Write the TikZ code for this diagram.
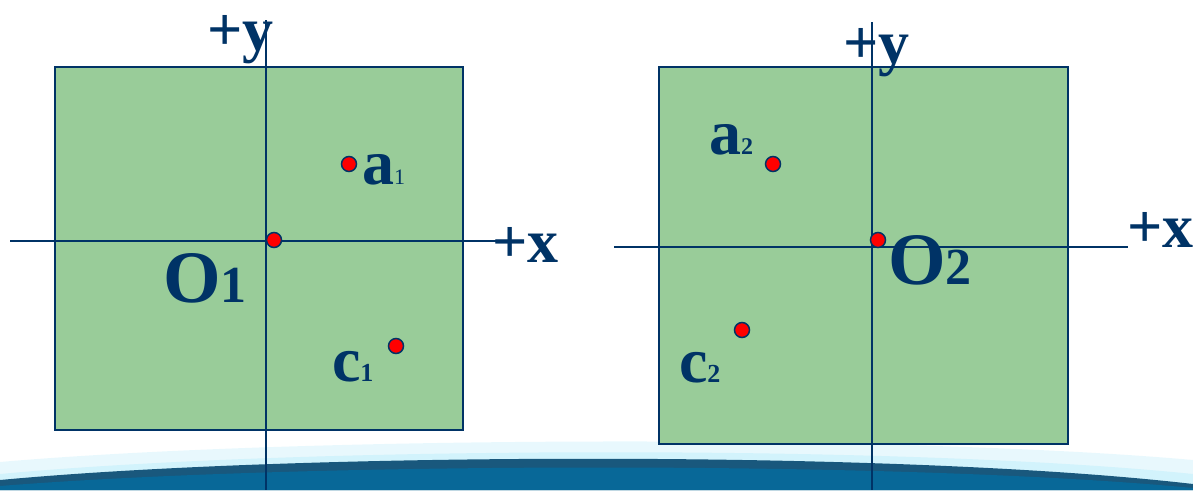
\documentclass[tikz,border=0pt]{standalone}
\usepackage{fontspec}
\setmainfont{Liberation Serif}
\begin{document}
\begin{tikzpicture}[x=1pt,y=-1pt,
  every node/.style={inner sep=0pt,outer sep=0pt,text=axisblue},
  plate/.style={fill=plategreen,draw=axisblue,line width=2pt},
  axis/.style={draw=axisblue,line width=2pt},
  pt/.style={circle,fill=red,draw=axisblue,line width=1.5pt,minimum size=15pt},
  biglab/.style={anchor=base west,font=\fontsize{74}{74}\selectfont\bfseries},
  axlab/.style={anchor=base west,font=\fontsize{62}{62}\selectfont\bfseries},
  ptlab/.style={anchor=base west,font=\fontsize{64}{64}\selectfont\bfseries},
]
\definecolor{axisblue}{RGB}{0,51,102}
\definecolor{plategreen}{RGB}{153,204,153}
\definecolor{bandblue}{RGB}{8,104,152}
\definecolor{banddark}{RGB}{25,88,125}
\definecolor{glow}{RGB}{210,243,252}
\useasboundingbox (0,0) rectangle (1193,490);
\fill[white] (0,0) rectangle (1193,490);
% bottom band
\fill[glow,opacity=0.5] (0,462) .. controls (300,436) and (900,434) .. (1193,460) -- (1193,490) -- (0,490) -- cycle;
\fill[glow] (0,474) .. controls (300,446) and (900,444) .. (1193,474) -- (1193,490) -- (0,490) -- cycle;
\fill[banddark] (0,480) .. controls (300,452) and (900,450) .. (1193,484) -- (1193,490) -- (0,490) -- cycle;
\fill[bandblue] (0,486) .. controls (300,462) and (900,460) .. (1193,488) -- (1193,490) -- (0,490) -- cycle;
% plates
\path[plate] (55,67) rectangle (463,430);
\path[plate] (659,67) rectangle (1068,444);
% left axes
\coordinate (ly0) at (266,20);
\coordinate (ly1) at (266,490);
\coordinate (lx0) at (10,241);
\coordinate (lx1) at (505,241);
\draw[axis] (ly0) -- (ly1);
\draw[axis] (lx0) -- (lx1);
% right axes
\coordinate (ry0) at (872,22);
\coordinate (ry1) at (872,490);
\coordinate (rx0) at (614,247);
\coordinate (rx1) at (1128,247);
\draw[axis] (ry0) -- (ry1);
\draw[axis] (rx0) -- (rx1);
% points
\node[pt] (o1) at (274,240) {};
\node[pt] (a1) at (349,164) {};
\node[pt] (c1) at (396,346) {};
\node[pt] (o2) at (878,240) {};
\node[pt] (a2) at (773,164) {};
\node[pt] (c2) at (742,330) {};
% labels
\node[axlab] (ly) at (207,50) {+y};
\node[axlab] (lx) at (492,262) {+x};
\node[biglab] (O1) at (163,302) {O\fontsize{52}{52}\selectfont 1};
\node[ptlab] (la1) at (362,184) {a\fontsize{22}{22}\selectfont\mdseries 1};
\node[ptlab] (lc1) at (332,381) {c\fontsize{26}{26}\selectfont 1};
\node[axlab] (ry) at (843,63) {+y};
\node[axlab] (rx) at (1127,247) {+x};
\node[biglab] (O2) at (888,284) {O\fontsize{52}{52}\selectfont 2};
\node[ptlab] (la2) at (709,154) {a\fontsize{24}{24}\selectfont 2};
\node[ptlab] (lc2) at (679,382) {c\fontsize{26}{26}\selectfont 2};
\end{tikzpicture}
\end{document}
